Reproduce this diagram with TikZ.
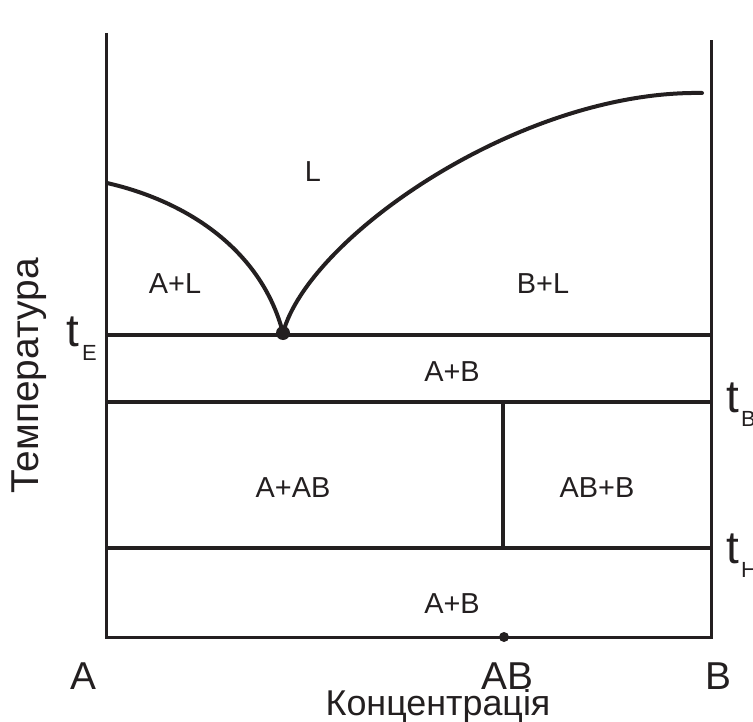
\documentclass[tikz,border=0pt]{standalone}
\usepackage{fontspec}
\setmainfont{Liberation Sans}
\definecolor{ink}{HTML}{231F20}
\tikzset{
  axisline/.style={draw=ink, line width=3bp},
  phaseline/.style={draw=ink, line width=4bp},
  curveline/.style={draw=ink, line width=4bp, line cap=round},
  region/.style={text=ink, font=\fontsize{29}{29}\selectfont, inner sep=0pt},
  biglabel/.style={text=ink, font=\fontsize{39}{39}\selectfont, inner sep=0pt},
  conclabel/.style={text=ink, font=\fontsize{36}{36}\selectfont, inner sep=0pt},
  tmain/.style={text=ink, font=\fontsize{46}{46}\selectfont, inner sep=0pt, anchor=base west},
  tsub/.style={text=ink, font=\fontsize{22}{22}\selectfont, inner sep=0pt, anchor=base west},
}
\begin{document}
\begin{tikzpicture}[x=1bp, y=-1bp]
\useasboundingbox (0,0) rectangle (753,722);
% key coordinates
\coordinate (LT) at (106,33);
\coordinate (LB) at (106,637);
\coordinate (RT) at (711,40);
\coordinate (RB) at (711,637);
\coordinate (EL) at (106,335);
\coordinate (ER) at (711,335);
\coordinate (BL) at (106,402);
\coordinate (BR) at (711,402);
\coordinate (HL) at (106,548);
\coordinate (HR) at (711,548);
\coordinate (VT) at (503,402);
\coordinate (VB) at (503,548);
\coordinate (LS) at (107,183);
\coordinate (RE) at (702,93);
% axes
\draw[axisline] (LT) -- (LB) -- (RB) -- (RT);
% horizontal phase lines
\draw[phaseline] (EL) -- (ER);
\draw[phaseline] (BL) -- (BR);
\draw[phaseline] (HL) -- (HR);
\draw[phaseline] (VT) -- (VB);
% eutectic point
\node[circle, fill=ink, inner sep=0pt, minimum size=14bp] (E) at (283,333) {};
% liquidus curves
\draw[curveline] (LS) .. controls (190,202) and (262,252) .. (E.center);
\draw[curveline] (E.center) .. controls (308,238) and (520,90) .. (RE);
% compound point
\node[circle, fill=ink, inner sep=0pt, minimum size=10bp] (ABpt) at (504,637) {};
% region labels
\node[region] (rL) at (313,172) {L};
\node[region] (rAL) at (175,284) {A+L};
\node[region] (rBL) at (543,284) {B+L};
\node[region] (rAB1) at (452,372) {A+B};
\node[region] (rAAB) at (293,488) {A+AB};
\node[region] (rABB) at (597,488) {AB+B};
\node[region] (rAB2) at (452,604) {A+B};
% temperature marks
\node[tmain] (tE) at (66,346) {t};
\node[tsub] (tEs) at (82,360) {E};
\node[tmain] (tB) at (726,412) {t};
\node[tsub] (tBs) at (741,426) {B};
\node[tmain] (tH) at (726,563) {t};
\node[tsub] (tHs) at (741,577) {H};
% axis labels
\node[biglabel, anchor=base] (cA) at (83,689) {A};
\node[biglabel, anchor=base] (cAB) at (507,689) {AB};
\node[biglabel, anchor=base] (cB) at (718,689) {B};
\node[conclabel, anchor=base] (conc) at (438,715) {Концентрація};
\node[biglabel, rotate=90] (temp) at (29,376) {Температура};
\end{tikzpicture}
\end{document}
